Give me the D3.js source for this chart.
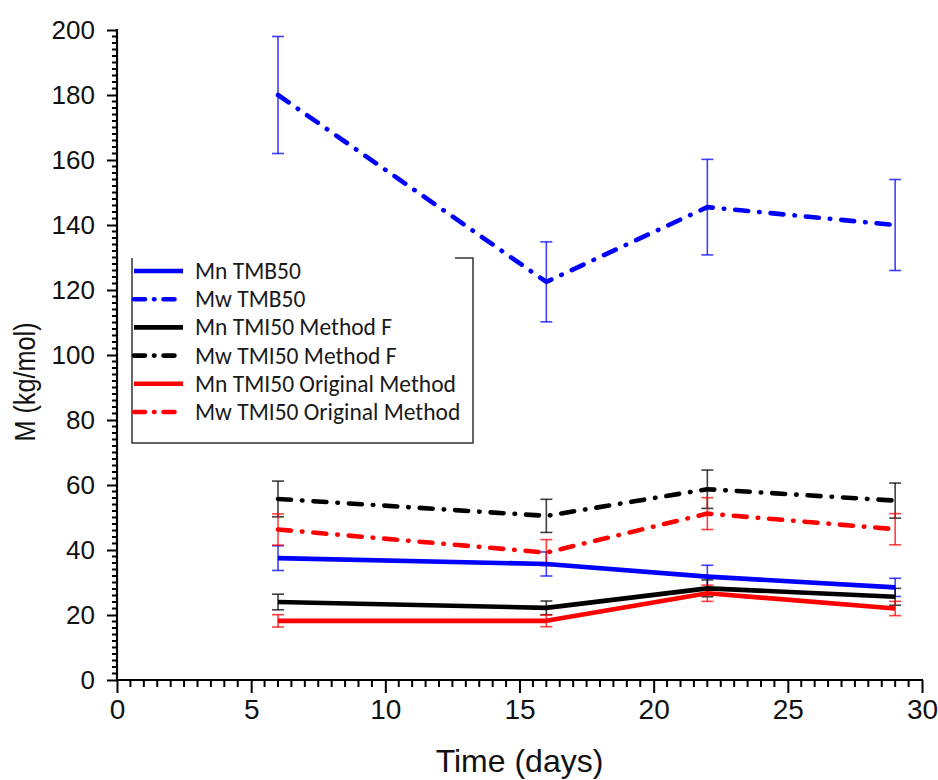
<!DOCTYPE html>
<html>
<head>
<meta charset="utf-8">
<script src="https://cdn.jsdelivr.net/npm/d3@7/dist/d3.min.js"></script>
<style>
  html, body { margin: 0; padding: 0; background: #fff; }
  svg { display: block; }
</style>
</head>
<body>
<svg id="chart" width="938" height="780"></svg>
<script>
// ---- data ----
const days = [6, 16, 22, 29];

const mnTMB50      = [37.5, 35.7, 31.8, 28.5];
const mnTMB50Err   = [3.8, 3.7, 3.5, 2.8];
const mwTMB50      = [180, 122.5, 145.5, 140];
const mwTMB50Err   = [18, 12.3, 14.7, 14];

const mnTMI50F     = [24, 22.2, 28.2, 25.6];
const mnTMI50FErr  = [2.4, 2.1, 2.6, 2.6];
const mwTMI50F     = [55.7, 50.5, 58.7, 55.2];
const mwTMI50FErr  = [5.5, 5.1, 5.9, 5.4];

const mnTMI50Orig    = [18.2, 18.2, 26.7, 22];
const mnTMI50OrigErr = [1.9, 1.8, 2.5, 2.2];
const mwTMI50Orig    = [46.3, 39.2, 51.2, 46.4];
const mwTMI50OrigErr = [4.8, 4.0, 4.9, 4.8];

const seriesNames = [
  "Mn TMB50", "Mw TMB50",
  "Mn TMI50 Method F", "Mw TMI50 Method F",
  "Mn TMI50 Original Method", "Mw TMI50 Original Method"
];
const xTicks = [0, 5, 10, 15, 20, 25, 30];
const yTicks = [0, 20, 40, 60, 80, 100, 120, 140, 160, 180, 200];
const xTitle = "Time (days)";
const yTitle = "M (kg/mol)";

// ---- series table built from the arrays ----
const series = [
  { name: seriesNames[0], values: mnTMB50,     errs: mnTMB50Err,     color: "#0000ff", dashed: false },
  { name: seriesNames[1], values: mwTMB50,     errs: mwTMB50Err,     color: "#0000ff", dashed: true },
  { name: seriesNames[2], values: mnTMI50F,    errs: mnTMI50FErr,    color: "#000000", dashed: false },
  { name: seriesNames[3], values: mwTMI50F,    errs: mwTMI50FErr,    color: "#000000", dashed: true },
  { name: seriesNames[4], values: mnTMI50Orig, errs: mnTMI50OrigErr, color: "#ff0000", dashed: false },
  { name: seriesNames[5], values: mwTMI50Orig, errs: mwTMI50OrigErr, color: "#ff0000", dashed: true }
];

const svg = d3.select("#chart");
const pLeft = 117, pRight = 922, pTop = 30, pBottom = 680;

const x = d3.scaleLinear().domain([0, 30]).range([pLeft, pRight]);
const y = d3.scaleLinear().domain([0, 200]).range([pBottom, pTop]);

const DASH = "13,11,0.5,11";
const LW = 4.6;

// ---- axes ----
const axisFont = "'Liberation Sans', Arial, sans-serif";

const xMinor = d3.range(0, 30.001, 0.5).filter(v => v % 5 !== 0);
const yMinor = d3.range(0, 200.001, 2).filter(v => v % 20 !== 0);

const gx = svg.append("g").attr("transform", `translate(0,${pBottom})`);
gx.selectAll("line.minor").data(xMinor).join("line")
  .attr("x1", d => x(d)).attr("x2", d => x(d))
  .attr("y1", 0).attr("y2", 7)
  .attr("stroke", "#000").attr("stroke-width", 2);
const xAxis = d3.axisBottom(x).tickValues(xTicks).tickSize(13).tickPadding(6).tickFormat(d3.format("d"));
gx.call(xAxis);
gx.select(".domain").remove();
gx.selectAll(".tick line").attr("stroke", "#000").attr("stroke-width", 2);
gx.selectAll(".tick text").attr("font-family", axisFont).attr("font-size", 28).attr("fill", "#111");
gx.append("line").attr("x1", pLeft - 1).attr("x2", pRight + 1).attr("y1", 0).attr("y2", 0)
  .attr("stroke", "#000").attr("stroke-width", 2.2);

const gy = svg.append("g").attr("transform", `translate(${pLeft},0)`);
gy.selectAll("line.minor").data(yMinor).join("line")
  .attr("x1", 0).attr("x2", -5)
  .attr("y1", d => y(d)).attr("y2", d => y(d))
  .attr("stroke", "#000").attr("stroke-width", 2);
const yAxis = d3.axisLeft(y).tickValues(yTicks).tickSize(10).tickPadding(12).tickFormat(d3.format("d"));
gy.call(yAxis);
gy.select(".domain").remove();
gy.selectAll(".tick line").attr("stroke", "#000").attr("stroke-width", 2);
gy.selectAll(".tick text").attr("font-family", axisFont).attr("font-size", 26).attr("fill", "#111");
gy.append("line").attr("x1", 0).attr("x2", 0).attr("y1", pTop - 1).attr("y2", pBottom + 1)
  .attr("stroke", "#000").attr("stroke-width", 2.2);

// axis titles
svg.append("text")
  .attr("x", (pLeft + pRight) / 2).attr("y", 772)
  .attr("text-anchor", "middle")
  .attr("font-family", axisFont).attr("font-size", 32).attr("fill", "#111")
  .text(xTitle);
svg.append("text")
  .attr("transform", `translate(35,382) rotate(-90) scale(0.87,1)`)
  .attr("text-anchor", "middle")
  .attr("font-family", axisFont).attr("font-size", 29).attr("fill", "#111")
  .text(yTitle);

// ---- error bars ----
const capHalf = 6;
series.forEach(s => {
  const g = svg.append("g");
  days.forEach((d, i) => {
    const cx = x(d);
    const y1 = y(s.values[i] + s.errs[i]);
    const y2 = y(s.values[i] - s.errs[i]);
    g.append("line").attr("x1", cx).attr("x2", cx).attr("y1", y1).attr("y2", y2)
      .attr("stroke", s.color).attr("stroke-width", 1.6).attr("stroke-opacity", 0.75);
    [y1, y2].forEach(yy => {
      g.append("line").attr("x1", cx - capHalf).attr("x2", cx + capHalf).attr("y1", yy).attr("y2", yy)
        .attr("stroke", s.color).attr("stroke-width", 1.6).attr("stroke-opacity", 0.75);
    });
  });
});

// ---- lines ----
const line = d3.line().x(d => x(d[0])).y(d => y(d[1]));
series.forEach(s => {
  svg.append("path")
    .datum(days.map((d, i) => [d, s.values[i]]))
    .attr("d", line)
    .attr("fill", "none")
    .attr("stroke", s.color)
    .attr("stroke-width", LW)
    .attr("stroke-linecap", s.dashed ? "round" : "butt")
    .attr("stroke-linejoin", "round")
    .attr("stroke-dasharray", s.dashed ? DASH : null);
});

// ---- legend ----
const lg = svg.append("g");
const lx0 = 132, lx1 = 473, ly0 = 258, ly1 = 443;
lg.append("path")
  .attr("d", `M${lx1 - 18},${ly0} L${lx1},${ly0} L${lx1},${ly1} L${lx0},${ly1} L${lx0},${ly0}`)
  .attr("fill", "none").attr("stroke", "#333").attr("stroke-width", 1.5);
const legendFont = "Carlito, Calibri, Lato, 'Open Sans', sans-serif";
series.forEach((s, i) => {
  const yy = 271 + i * 28.2;
  lg.append("line")
    .attr("x1", lx0 + 2).attr("x2", 183).attr("y1", yy).attr("y2", yy)
    .attr("stroke", s.color).attr("stroke-width", LW)
    .attr("stroke-linecap", s.dashed ? "round" : "butt")
    .attr("stroke-dasharray", s.dashed ? "11,9,0.5,9" : null);
  lg.append("text")
    .attr("x", 195).attr("y", yy + 8)
    .attr("font-family", legendFont).attr("font-size", 23.5).attr("fill", "#1a1a1a")
    .text(s.name);
});
</script>
</body>
</html>
